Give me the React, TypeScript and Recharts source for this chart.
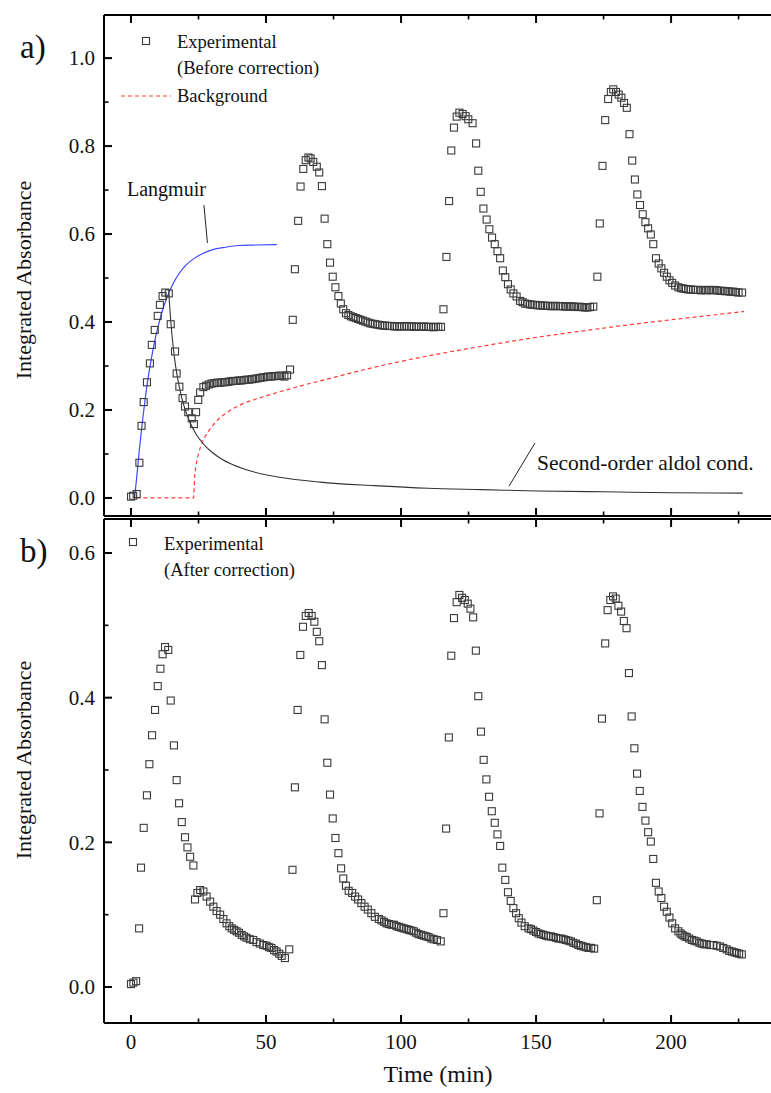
import React from 'react';
import { ComposedChart, Scatter, Line, XAxis, YAxis, ReferenceLine } from 'recharts';

const FONT = '"Liberation Serif", "Times New Roman", serif';

// ---------- Panel a) Experimental (before correction): [time (min), integrated absorbance]
const beforeRun1: [number, number][] = [
  [0, 0.003], [0.8, 0.005], [2.1, 0.009], [3.1, 0.08], [3.9, 0.164], [4.7, 0.218], [5.9, 0.263], [7.0, 0.306],
  [7.7, 0.348], [8.8, 0.382], [9.9, 0.414], [10.7, 0.439], [11.7, 0.459], [12.7, 0.467], [14.0, 0.465], [14.7, 0.395],
  [16.3, 0.333], [16.9, 0.283], [17.9, 0.253], [19.1, 0.227], [20.0, 0.208], [21.2, 0.195], [22.5, 0.181], [23.3, 0.168],
  [24.1, 0.195], [24.9, 0.223], [25.6, 0.24], [26.8, 0.252], [27.8, 0.255], [28.8, 0.258], [29.8, 0.26], [30.8, 0.261],
  [31.8, 0.262], [32.8, 0.262], [33.8, 0.263], [34.8, 0.263], [35.8, 0.264], [36.8, 0.265], [37.8, 0.266], [38.8, 0.266],
  [39.8, 0.267], [40.8, 0.267], [41.8, 0.268], [42.8, 0.269], [43.8, 0.269], [44.8, 0.27], [45.8, 0.271], [46.8, 0.272],
  [47.8, 0.273], [48.8, 0.274], [49.8, 0.275], [50.8, 0.276], [51.8, 0.276], [52.8, 0.277], [53.8, 0.277], [54.8, 0.278],
  [55.8, 0.278], [56.8, 0.276], [57.8, 0.279], [58.9, 0.292],
];
const beforeRun2: [number, number][] = [
  [59.9, 0.405], [60.7, 0.52], [61.9, 0.63], [62.8, 0.708], [63.8, 0.748], [64.7, 0.768], [65.7, 0.774], [66.5, 0.772],
  [67.5, 0.764], [68.8, 0.753], [69.7, 0.74], [70.7, 0.709], [71.7, 0.635], [72.7, 0.577], [73.7, 0.535], [74.7, 0.503],
  [75.7, 0.479], [76.8, 0.459], [77.7, 0.442], [78.6, 0.429], [79.6, 0.42], [80.5, 0.416], [81.4, 0.413], [82.3, 0.411],
  [83.2, 0.409], [84.1, 0.407], [85.0, 0.405], [85.9, 0.403], [86.8, 0.401], [87.7, 0.399], [88.6, 0.397], [89.5, 0.396],
  [90.4, 0.395], [91.3, 0.394], [92.2, 0.393], [93.1, 0.392], [94.0, 0.392], [94.9, 0.391], [95.8, 0.391], [96.7, 0.391],
  [97.6, 0.39], [98.5, 0.39], [99.4, 0.39], [100.3, 0.39], [101.2, 0.39], [102.1, 0.391], [103.0, 0.39], [103.9, 0.39],
  [104.8, 0.389], [105.7, 0.39], [106.6, 0.389], [107.5, 0.389], [108.4, 0.39], [109.3, 0.389], [110.2, 0.389],
  [111.1, 0.389], [112.0, 0.388], [112.9, 0.389], [113.8, 0.389], [114.8, 0.389],
];
const beforeRun3: [number, number][] = [
  [115.7, 0.429], [116.8, 0.548], [117.8, 0.675], [118.6, 0.79], [119.6, 0.842], [120.6, 0.867], [121.6, 0.876],
  [122.8, 0.873], [123.9, 0.868], [124.9, 0.861], [126.5, 0.852], [127.8, 0.806], [128.6, 0.744], [129.5, 0.696],
  [130.5, 0.658], [131.7, 0.633], [132.7, 0.611], [133.7, 0.592], [134.7, 0.577], [135.7, 0.561], [136.7, 0.545],
  [137.7, 0.517], [138.6, 0.502], [139.6, 0.486], [140.6, 0.474], [141.6, 0.465], [142.8, 0.458], [144.1, 0.448],
  [145.0, 0.445], [145.9, 0.442], [146.8, 0.441], [147.8, 0.44], [148.7, 0.439], [149.7, 0.439], [150.6, 0.438],
  [151.5, 0.438], [152.5, 0.437], [153.4, 0.437], [154.4, 0.437], [155.3, 0.436], [156.3, 0.436], [157.2, 0.437],
  [158.2, 0.436], [159.1, 0.436], [160.0, 0.436], [161.0, 0.435], [162.0, 0.435], [163.0, 0.436], [164.0, 0.435],
  [165.0, 0.434], [166.0, 0.435], [167.0, 0.434], [168.0, 0.433], [169.0, 0.433], [170.0, 0.434], [171.2, 0.435],
];
const beforeRun4: [number, number][] = [
  [172.7, 0.503], [173.6, 0.624], [174.6, 0.755], [175.6, 0.859], [176.7, 0.907], [177.7, 0.923], [178.6, 0.929],
  [179.6, 0.923], [180.6, 0.917], [181.6, 0.91], [182.6, 0.898], [183.6, 0.887], [184.6, 0.827], [185.6, 0.767],
  [186.6, 0.724], [187.5, 0.69], [188.5, 0.666], [189.5, 0.645], [190.5, 0.627], [191.5, 0.613], [192.5, 0.599],
  [193.4, 0.577], [194.4, 0.545], [195.4, 0.533], [196.4, 0.522], [197.4, 0.512], [198.4, 0.503], [199.4, 0.495],
  [200.4, 0.489], [201.5, 0.483], [202.7, 0.479], [203.7, 0.477], [204.6, 0.476], [205.5, 0.475], [206.4, 0.474],
  [207.3, 0.474], [208.2, 0.473], [209.1, 0.473], [210.0, 0.473], [211.0, 0.472], [212.0, 0.473], [213.0, 0.472],
  [214.0, 0.473], [215.0, 0.472], [216.0, 0.473], [217.0, 0.472], [218.0, 0.471], [219.0, 0.471], [220.0, 0.47],
  [221.0, 0.47], [222.0, 0.469], [223.0, 0.469], [224.0, 0.468], [225.0, 0.467], [226.3, 0.467],
];

// Fitted curves read from panel a)
const langmuirFit: [number, number][] = [
  [1.3, 0], [2, 0.04], [3, 0.104], [4, 0.162], [5, 0.213], [6, 0.259], [7, 0.298], [8, 0.332], [9, 0.363],
  [10, 0.389], [12, 0.433], [14, 0.466], [16, 0.492], [18, 0.512], [20, 0.527], [23, 0.543], [26, 0.554],
  [30, 0.564], [35, 0.57], [40, 0.574], [45, 0.575], [54, 0.576],
];
const aldolFit: [number, number][] = [
  [14, 0.465], [15, 0.382], [16, 0.324], [17, 0.281], [18, 0.249], [19, 0.223], [20, 0.202], [22, 0.17],
  [24, 0.146], [26, 0.129], [28, 0.115], [30, 0.104], [34, 0.087], [38, 0.075], [45, 0.06], [55, 0.047],
  [70, 0.036], [90, 0.028], [110, 0.022], [130, 0.019], [150, 0.016], [175, 0.014], [200, 0.012], [226.5, 0.011],
];
const backgroundFit: [number, number][] = [
  [2, 0], [23.2, 0], [23.5, 0.04], [24, 0.07], [25, 0.1], [26.5, 0.128], [28, 0.145], [31, 0.17], [35, 0.192],
  [40, 0.21], [50, 0.232], [60, 0.25], [75, 0.274], [90, 0.297], [110, 0.323], [130, 0.345], [150, 0.365],
  [170, 0.382], [190, 0.398], [210, 0.412], [227, 0.424],
];

// ---------- Panel b) Experimental (after correction)
const afterRun1: [number, number][] = [
  [0, 0.004], [0.9, 0.006], [1.9, 0.008], [3.0, 0.081], [3.7, 0.165], [4.7, 0.22], [5.9, 0.265], [6.8, 0.308],
  [7.8, 0.348], [8.9, 0.383], [9.9, 0.416], [10.9, 0.44], [11.7, 0.46], [12.6, 0.47], [13.8, 0.466], [14.7, 0.396],
  [15.9, 0.334], [16.9, 0.286], [17.8, 0.254], [18.8, 0.228], [20.0, 0.207], [20.9, 0.193], [21.9, 0.18], [23.1, 0.168],
  [23.7, 0.121], [24.6, 0.13], [25.6, 0.134], [26.8, 0.132], [28.0, 0.125], [29.3, 0.118], [30.5, 0.111], [31.7, 0.105],
  [33.0, 0.1], [34.2, 0.094], [35.4, 0.088], [36.4, 0.084], [37.3, 0.081], [38.2, 0.079], [39.1, 0.077], [40.0, 0.075],
  [41.0, 0.072], [41.9, 0.07], [42.8, 0.068], [44.0, 0.066], [45.3, 0.065], [46.5, 0.062], [47.7, 0.06], [49.0, 0.058],
  [50.2, 0.057], [51.1, 0.055], [52.0, 0.054], [53.0, 0.051], [53.9, 0.049], [54.9, 0.046], [55.8, 0.043], [57.0, 0.04],
  [58.6, 0.052],
];
const afterRun2: [number, number][] = [
  [59.8, 0.162], [60.7, 0.276], [61.7, 0.383], [62.7, 0.459], [63.7, 0.498], [64.7, 0.513], [65.8, 0.517], [66.9, 0.513],
  [67.9, 0.505], [68.8, 0.491], [69.7, 0.478], [70.7, 0.445], [71.7, 0.37], [72.7, 0.31], [73.7, 0.266], [74.7, 0.233],
  [75.7, 0.206], [76.8, 0.185], [77.8, 0.164], [78.6, 0.15], [79.6, 0.14], [80.6, 0.133], [81.9, 0.13], [83.0, 0.125],
  [84.1, 0.121], [85.3, 0.116], [86.5, 0.111], [87.7, 0.107], [89.0, 0.102], [90.3, 0.097], [91.8, 0.094], [92.8, 0.092],
  [93.7, 0.09], [94.6, 0.088], [95.5, 0.087], [96.5, 0.086], [97.4, 0.086], [98.3, 0.084], [99.2, 0.083], [100.1, 0.082],
  [101.0, 0.081], [102.0, 0.08], [102.9, 0.079], [103.8, 0.078], [104.7, 0.077], [105.6, 0.075], [106.5, 0.073],
  [107.5, 0.072], [108.4, 0.071], [109.3, 0.07], [110.2, 0.069], [111.2, 0.067], [112.1, 0.066], [113.3, 0.065],
  [114.7, 0.063],
];
const afterRun3: [number, number][] = [
  [115.7, 0.102], [116.7, 0.219], [117.7, 0.345], [118.6, 0.458], [119.6, 0.51], [120.6, 0.532], [121.6, 0.542],
  [122.6, 0.538], [123.6, 0.535], [124.7, 0.53], [125.7, 0.523], [126.7, 0.511], [127.7, 0.465], [128.6, 0.402],
  [129.6, 0.353], [130.6, 0.314], [131.6, 0.287], [132.6, 0.263], [133.6, 0.243], [134.7, 0.227], [135.7, 0.211],
  [136.7, 0.195], [137.5, 0.165], [138.6, 0.148], [139.6, 0.131], [140.6, 0.119], [141.6, 0.109], [142.6, 0.102],
  [143.6, 0.095], [144.6, 0.089], [145.8, 0.084], [147.2, 0.081], [148.1, 0.08], [149.0, 0.078], [150.0, 0.076],
  [150.9, 0.074], [151.8, 0.073], [152.8, 0.072], [153.7, 0.071], [154.6, 0.07], [155.5, 0.07], [156.4, 0.069],
  [157.4, 0.068], [158.3, 0.067], [159.2, 0.067], [160.1, 0.066], [161.0, 0.065], [162.0, 0.064], [162.9, 0.063],
  [163.8, 0.061], [164.8, 0.06], [165.7, 0.058], [166.6, 0.057], [167.5, 0.056], [168.5, 0.055], [169.4, 0.054],
  [170.4, 0.054], [171.5, 0.053],
];
const afterRun4: [number, number][] = [
  [172.5, 0.12], [173.5, 0.24], [174.4, 0.371], [175.6, 0.475], [176.5, 0.521], [177.5, 0.535], [178.5, 0.54],
  [179.5, 0.537], [180.5, 0.527], [181.5, 0.519], [182.5, 0.506], [183.5, 0.496], [184.4, 0.434], [185.4, 0.374],
  [186.4, 0.33], [187.4, 0.295], [188.4, 0.271], [189.4, 0.249], [190.5, 0.23], [191.5, 0.214], [192.5, 0.201],
  [193.4, 0.177], [194.4, 0.144], [195.4, 0.132], [196.4, 0.123], [197.4, 0.111], [198.4, 0.104], [199.4, 0.096],
  [200.4, 0.088], [201.5, 0.081], [202.7, 0.077], [203.5, 0.074], [204.2, 0.072], [205.0, 0.07], [205.8, 0.069],
  [206.7, 0.067], [207.7, 0.065], [208.6, 0.064], [209.5, 0.063], [210.5, 0.061], [211.4, 0.06], [212.3, 0.059],
  [213.2, 0.059], [214.5, 0.058], [215.7, 0.058], [216.9, 0.057], [218.1, 0.056], [219.3, 0.054], [220.6, 0.052],
  [221.5, 0.05], [222.5, 0.049], [223.4, 0.048], [224.3, 0.047], [225.2, 0.046], [226.2, 0.045],
];

// ---------- Axis ticks
const xTicks = [0, 25, 50, 75, 100, 125, 150, 175, 200, 225];
const xMajor = [0, 50, 100, 150, 200];
const yTicksA = [0, 0.1, 0.2, 0.3, 0.4, 0.5, 0.6, 0.7, 0.8, 0.9, 1.0];
const yTicksB = [0, 0.1, 0.2, 0.3, 0.4, 0.5, 0.6];
const yMajor = [0, 0.2, 0.4, 0.6, 0.8, 1.0];

const X_DOMAIN: [number, number] = [-10, 237];
const YA_DOMAIN: [number, number] = [-0.041, 1.098];
const YB_DOMAIN: [number, number] = [-0.0498, 0.647];

const toPts = (arr: [number, number][]) => arr.map(([t, v]) => ({ t, v }));
const expBefore = toPts([...beforeRun1, ...beforeRun2, ...beforeRun3, ...beforeRun4]);
const expAfter = toPts([...afterRun1, ...afterRun2, ...afterRun3, ...afterRun4]);

const Square = (props: any) => {
  const { cx, cy } = props;
  if (cx == null || cy == null || isNaN(cx) || isNaN(cy)) return <g />;
  return <rect x={cx - 3.5} y={cy - 3.5} width={7} height={7} fill="none" stroke="#3a3a3a" strokeWidth={1.1} />;
};

const isMajorX = (v: number) => xMajor.some((m) => Math.abs(m - v) < 1e-6);
const isMajorY = (v: number) => yMajor.some((m) => Math.abs(m - v) < 1e-6);

const makeXTick = (showLabel: boolean, dir: number) => (props: any) => {
  const { x, y, payload } = props;
  const val = payload.value;
  const major = isMajorX(val);
  const len = major ? 8 : 4.5;
  return (
    <g>
      <line x1={x} x2={x} y1={y} y2={y + dir * len} stroke="#000" strokeWidth={major ? 2 : 1.6} />
      {showLabel && major ? (
        <text x={x} y={y + 26} textAnchor="middle" fontFamily={FONT} fontSize={21} fill="#111">
          {val}
        </text>
      ) : null}
    </g>
  );
};

const YTick = (props: any) => {
  const { x, y, payload } = props;
  const val = payload.value;
  const major = isMajorY(val);
  const len = major ? 8 : 4.5;
  return (
    <g>
      <line x1={x} x2={x + len} y1={y} y2={y} stroke="#000" strokeWidth={major ? 2 : 1.6} />
      {major ? (
        <text x={x - 9} y={y} dy="0.35em" textAnchor="end" fontFamily={FONT} fontSize={21} fill="#111">
          {val.toFixed(1)}
        </text>
      ) : null}
    </g>
  );
};

const axisLine = { stroke: '#000', strokeWidth: 2 };

export default function App() {
  const txt = { fontFamily: FONT, fill: '#111' } as const;
  return (
    <div style={{ position: 'absolute', left: 0, top: 0, width: 771, height: 1093, background: '#fff', overflow: 'hidden' }}>
      {/* Panel a */}
      <div style={{ position: 'absolute', left: 0, top: 0 }}>
        <ComposedChart width={771} height={530} margin={{ top: 10, right: 0, bottom: 0, left: 0 }}>
          <XAxis
            dataKey="t"
            type="number"
            domain={X_DOMAIN}
            ticks={xTicks}
            interval={0}
            allowDataOverflow
            height={14}
            tickSize={0}
            tickMargin={0}
            axisLine={axisLine}
            tickLine={false}
            tick={makeXTick(false, -1)}
          />
          <XAxis
            xAxisId="top"
            orientation="top"
            dataKey="t"
            type="number"
            domain={X_DOMAIN}
            ticks={xTicks}
            interval={0}
            allowDataOverflow
            height={5}
            tickSize={0}
            tickMargin={0}
            axisLine={axisLine}
            tickLine={false}
            tick={makeXTick(false, 1)}
          />
          <YAxis
            dataKey="v"
            type="number"
            domain={YA_DOMAIN}
            ticks={yTicksA}
            interval={0}
            allowDataOverflow
            width={104}
            tickSize={0}
            tickMargin={0}
            axisLine={axisLine}
            tickLine={false}
            tick={YTick}
          />
          <Line data={toPts(backgroundFit)} dataKey="v" type="monotone" stroke="#ff3b3b" strokeWidth={1.2} strokeDasharray="4 3" dot={false} activeDot={false} isAnimationActive={false} />
          <Line data={toPts(aldolFit)} dataKey="v" type="monotone" stroke="#333" strokeWidth={1.1} dot={false} activeDot={false} isAnimationActive={false} />
          <Line data={toPts(langmuirFit)} dataKey="v" type="monotone" stroke="#3f48ff" strokeWidth={1.2} dot={false} activeDot={false} isAnimationActive={false} />
          <Scatter data={expBefore} dataKey="v" shape={Square} isAnimationActive={false} />
          <ReferenceLine segment={[{ x: 27.0, y: 0.666 }, { x: 28.3, y: 0.58 }]} stroke="#222" strokeWidth={1} ifOverflow="visible" />
          <ReferenceLine segment={[{ x: 149.6, y: 0.125 }, { x: 140.0, y: 0.027 }]} stroke="#222" strokeWidth={1} ifOverflow="visible" />
        </ComposedChart>
      </div>

      {/* Panel b */}
      <div style={{ position: 'absolute', left: 0, top: 505 }}>
        <ComposedChart width={771} height={588} margin={{ top: 9, right: 0, bottom: 10, left: 0 }}>
          <XAxis
            dataKey="t"
            type="number"
            domain={X_DOMAIN}
            ticks={xTicks}
            interval={0}
            allowDataOverflow
            height={60}
            tickSize={0}
            tickMargin={0}
            axisLine={axisLine}
            tickLine={false}
            tick={makeXTick(true, -1)}
          />
          <XAxis
            xAxisId="top"
            orientation="top"
            dataKey="t"
            type="number"
            domain={X_DOMAIN}
            ticks={xTicks}
            interval={0}
            allowDataOverflow
            height={5}
            tickSize={0}
            tickMargin={0}
            axisLine={axisLine}
            tickLine={false}
            tick={makeXTick(false, 1)}
          />
          <YAxis
            dataKey="v"
            type="number"
            domain={YB_DOMAIN}
            ticks={yTicksB}
            interval={0}
            allowDataOverflow
            width={104}
            tickSize={0}
            tickMargin={0}
            axisLine={axisLine}
            tickLine={false}
            tick={YTick}
          />
          <Scatter data={expAfter} dataKey="v" shape={Square} isAnimationActive={false} />
        </ComposedChart>
      </div>

      {/* Text overlay: panel labels, axis titles, legends, annotations */}
      <svg width={771} height={1093} style={{ position: 'absolute', left: 0, top: 0, pointerEvents: 'none' }}>
        <text x={20} y={58} fontSize={33} {...txt}>a)</text>
        <text x={20} y={562} fontSize={33} {...txt}>b)</text>

        <text transform="rotate(-90 31 280)" x={31} y={280} textAnchor="middle" fontSize={22} {...txt}>Integrated Absorbance</text>
        <text transform="rotate(-90 31 760)" x={31} y={760} textAnchor="middle" fontSize={22} {...txt}>Integrated Absorbance</text>
        <text x={438} y={1082} textAnchor="middle" fontSize={24} {...txt}>Time (min)</text>

        {/* legend a */}
        <rect x={142.5} y={37.5} width={7} height={7} fill="none" stroke="#3a3a3a" strokeWidth={1.1} />
        <text x={177} y={48} fontSize={18.5} {...txt}>Experimental</text>
        <text x={177} y={74} fontSize={18.5} {...txt}>(Before correction)</text>
        <line x1={121} x2={171} y1={96} y2={96} stroke="#ff3b3b" strokeWidth={1.2} strokeDasharray="4 3" />
        <text x={177} y={102} fontSize={18.5} {...txt}>Background</text>

        {/* annotations a */}
        <text x={127} y={196} fontSize={20} {...txt}>Langmuir</text>
        <text x={537} y={470} fontSize={21.5} {...txt}>Second-order aldol cond.</text>

        {/* legend b */}
        <rect x={129.5} y={538.5} width={7} height={7} fill="none" stroke="#3a3a3a" strokeWidth={1.1} />
        <text x={164} y={550} fontSize={18.5} {...txt}>Experimental</text>
        <text x={164} y={576} fontSize={18.5} {...txt}>(After correction)</text>
      </svg>
    </div>
  );
}
